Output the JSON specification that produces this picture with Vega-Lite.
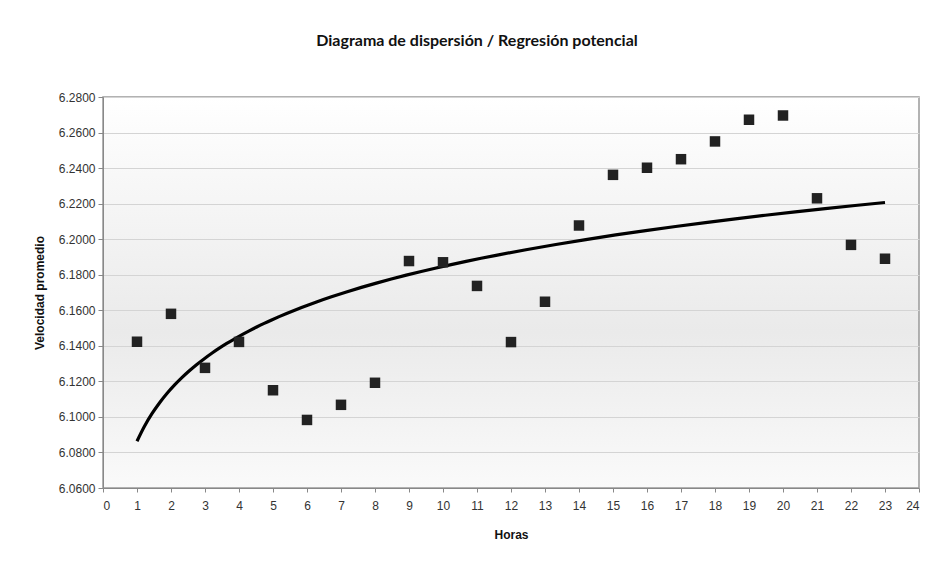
{
  "$schema": "https://vega.github.io/schema/vega-lite/v6.json",
  "width": 816,
  "height": 391,
  "autosize": "none",
  "padding": {"left": 103, "top": 97, "right": 16, "bottom": 85},
  "background": "white",
  "title": {
    "text": "Diagrama de dispersión / Regresión potencial",
    "font": "Lato",
    "fontSize": 16,
    "fontWeight": "bold",
    "color": "#111",
    "anchor": "middle",
    "dx": -34,
    "offset": 42
  },
  "config": {
    "view": {
      "stroke": "#999",
      "strokeWidth": 1.5,
      "fill": {
        "gradient": "linear",
        "x1": 0, "y1": 0, "x2": 0, "y2": 1,
        "stops": [
          {"offset": 0, "color": "#ffffff"},
          {"offset": 0.6, "color": "#eaeaea"},
          {"offset": 1, "color": "#fafafa"}
        ]
      }
    },
    "axis": {
      "labelFont": "Liberation Sans",
      "labelFontSize": 12,
      "labelColor": "#333",
      "titleFont": "Liberation Sans",
      "titleFontSize": 12,
      "titleFontWeight": "bold",
      "titleColor": "#111",
      "domainColor": "#888",
      "tickColor": "#888",
      "gridColor": "#d4d4d4"
    }
  },
  "data": {
    "values": [
      {"Horas": 1, "Velocidad": 6.1423},
      {"Horas": 2, "Velocidad": 6.1580},
      {"Horas": 3, "Velocidad": 6.1276},
      {"Horas": 4, "Velocidad": 6.1422},
      {"Horas": 5, "Velocidad": 6.1150},
      {"Horas": 6, "Velocidad": 6.0983},
      {"Horas": 7, "Velocidad": 6.1068},
      {"Horas": 8, "Velocidad": 6.1192},
      {"Horas": 9, "Velocidad": 6.1877},
      {"Horas": 10, "Velocidad": 6.1870},
      {"Horas": 11, "Velocidad": 6.1737},
      {"Horas": 12, "Velocidad": 6.1421},
      {"Horas": 13, "Velocidad": 6.1648},
      {"Horas": 14, "Velocidad": 6.2077},
      {"Horas": 15, "Velocidad": 6.2362},
      {"Horas": 16, "Velocidad": 6.2402},
      {"Horas": 17, "Velocidad": 6.2450},
      {"Horas": 18, "Velocidad": 6.2550},
      {"Horas": 19, "Velocidad": 6.2672},
      {"Horas": 20, "Velocidad": 6.2696},
      {"Horas": 21, "Velocidad": 6.2230},
      {"Horas": 22, "Velocidad": 6.1968},
      {"Horas": 23, "Velocidad": 6.1890}
    ]
  },
  "encoding": {
    "x": {
      "field": "Horas",
      "type": "quantitative",
      "scale": {"domain": [0, 24], "nice": false},
      "axis": {
        "values": [0,1,2,3,4,5,6,7,8,9,10,11,12,13,14,15,16,17,18,19,20,21,22,23,24],
        "grid": false,
        "tickSize": 4,
        "labelPadding": 8,
        "title": "Horas",
        "titlePadding": 18
      }
    },
    "y": {
      "field": "Velocidad",
      "type": "quantitative",
      "scale": {"domain": [6.06, 6.28], "nice": false, "zero": false},
      "axis": {
        "values": [6.06, 6.08, 6.10, 6.12, 6.14, 6.16, 6.18, 6.20, 6.22, 6.24, 6.26, 6.28],
        "format": ".4f",
        "grid": true,
        "tickSize": 5,
        "labelPadding": 3,
        "title": "Velocidad promedio",
        "titlePadding": 12
      }
    }
  },
  "layer": [
    {
      "transform": [
        {"regression": "Velocidad", "on": "Horas", "method": "pow", "extent": [1, 23]}
      ],
      "mark": {"type": "line", "color": "#000", "strokeWidth": 3.2, "interpolate": "monotone"},
      "encoding": {}
    },
    {
      "mark": {"type": "square", "size": 110, "color": "#222", "opacity": 1, "filled": true}
    }
  ]
}
